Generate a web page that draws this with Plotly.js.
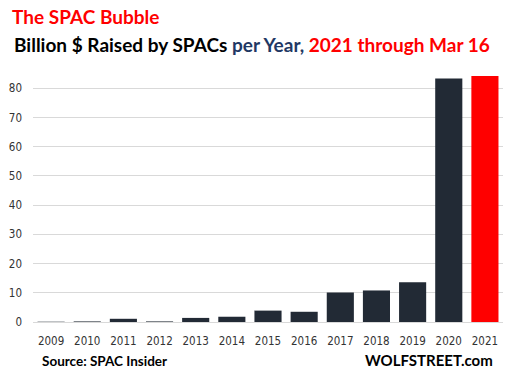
<!DOCTYPE html>
<html>
<head>
<meta charset="utf-8">
<script src="https://cdn.plot.ly/plotly-3.0.1.min.js"></script>
<style>html,body{margin:0;padding:0;background:#fff;}#chart{width:512px;height:377px;}</style>
</head>
<body>
<div id="chart"></div>
<script>
var years = ["2009","2010","2011","2012","2013","2014","2015","2016","2017","2018","2019","2020","2021"];
var raised = [0.1, 0.2, 1.1, 0.2, 1.4, 1.8, 3.9, 3.5, 10.1, 10.8, 13.6, 83.4, 84.2];
var barColors = years.map(function(y){ return y === "2021" ? "#ff0000" : "#222a35"; });

var tickFont = {family: "DejaVu Sans Condensed, DejaVu Sans, sans-serif", size: 11.5, color: "#333333"};
var headFont = "Lato, 'Open Sans', sans-serif";

var data = [{
  type: "bar",
  x: years,
  y: raised,
  marker: {color: barColors, line: {width: 0}},
  hoverinfo: "x+y"
}];

var layout = {
  width: 512, height: 377,
  margin: {l: 33, r: 9, t: 65, b: 55},
  paper_bgcolor: "#ffffff",
  plot_bgcolor: "#ffffff",
  bargap: 0.25,
  showlegend: false,
  title: {
    text: "The SPAC Bubble",
    font: {family: headFont, size: 19, color: "#ff0000", weight: "bold"},
    x: 12/512, xref: "container", xanchor: "left",
    y: 1 - 17/377, yref: "container", yanchor: "middle"
  },
  xaxis: {
    type: "category",
    tickfont: tickFont,
    showgrid: false,
    showline: true, linecolor: "#d9d9d9", linewidth: 1,
    ticks: "", ticklabelstandoff: 8
  },
  yaxis: {
    range: [0, 88],
    tickvals: [0,10,20,30,40,50,60,70,80],
    tickfont: tickFont,
    showgrid: true, gridcolor: "#d9d9d9", gridwidth: 1,
    zeroline: true, zerolinecolor: "#d9d9d9", zerolinewidth: 1,
    ticks: "", ticklabelstandoff: 10,
    fixedrange: true
  },
  annotations: [
    {
      text: "<b>Billion $ Raised by SPACs <span style='color:#1f3864'>per Year,</span> <span style='color:#ff0000'>2021 through Mar 16</span></b>",
      xref: "paper", yref: "paper",
      x: -21/470, y: 1 + (65-44)/257,
      xanchor: "left", yanchor: "middle",
      showarrow: false,
      font: {family: headFont, size: 19, color: "#000000"}
    },
    {
      text: "<b>Source: SPAC Insider</b>",
      xref: "paper", yref: "paper",
      x: (40-33)/470, y: -(361-322)/257,
      xanchor: "left", yanchor: "middle",
      showarrow: false,
      font: {family: headFont, size: 13.5, color: "#000000"}
    },
    {
      text: "<b>WOLFSTREET.com</b>",
      xref: "paper", yref: "paper",
      x: (495-33)/470, y: -(360-322)/257,
      xanchor: "right", yanchor: "middle",
      showarrow: false,
      font: {family: headFont, size: 15, color: "#000000"}
    }
  ]
};

Plotly.newPlot("chart", data, layout, {displayModeBar: false, staticPlot: true});
</script>
</body>
</html>
